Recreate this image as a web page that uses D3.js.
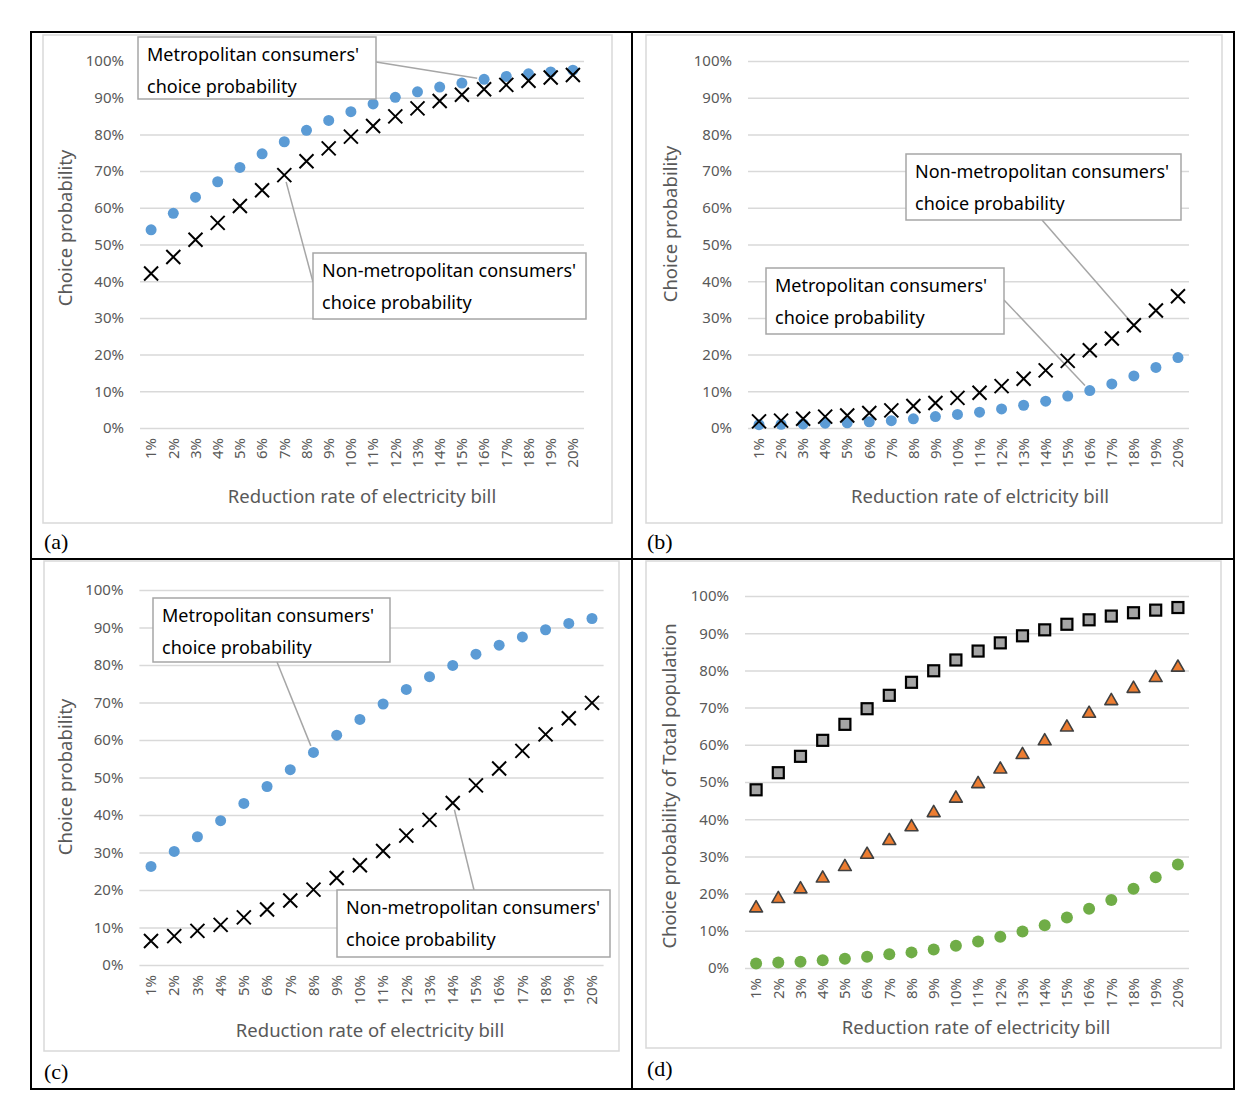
<!doctype html>
<html>
<head>
<meta charset="utf-8"/>
<title>Choice probability by reduction rate of electricity bill</title>
<script src="https://cdnjs.cloudflare.com/ajax/libs/d3/7.8.5/d3.min.js"></script>
<style>
  body { margin: 0; background: #fff; }
  svg { display: block; font-family: "Noto Sans", "Open Sans", sans-serif; }
</style>
</head>
<body>
<svg width="1257" height="1114"></svg>
<script>
var categories = ["1%","2%","3%","4%","5%","6%","7%","8%","9%","10%","11%","12%","13%","14%","15%","16%","17%","18%","19%","20%"];
var yTicks = [0,10,20,30,40,50,60,70,80,90,100];

// (a)
var aMetro    = [54.0,58.5,62.9,67.1,71.0,74.7,78.0,81.1,83.8,86.2,88.3,90.1,91.6,92.9,94.0,95.0,95.8,96.5,97.0,97.5];
var aNonMetro = [42.1,46.6,51.3,55.9,60.5,64.8,68.9,72.7,76.2,79.4,82.3,84.9,87.1,89.1,90.8,92.3,93.5,94.6,95.5,96.2];
// (b)
var bMetro    = [0.9,1.0,1.1,1.3,1.4,1.7,2.0,2.5,3.1,3.7,4.3,5.2,6.2,7.3,8.7,10.2,12.0,14.2,16.5,19.2];
var bNonMetro = [1.8,2.0,2.5,3.1,3.4,4.1,4.8,6.0,6.8,8.2,9.6,11.4,13.4,15.7,18.3,21.2,24.4,28.0,32.0,35.9];
// (c)
var cMetro    = [26.3,30.3,34.2,38.5,43.1,47.6,52.1,56.7,61.3,65.5,69.6,73.5,76.9,79.9,82.9,85.3,87.5,89.4,91.1,92.4];
var cNonMetro = [6.4,7.7,9.1,10.7,12.7,14.8,17.2,20.1,23.2,26.6,30.4,34.5,38.7,43.2,47.9,52.4,57.1,61.5,65.8,69.9];
// (d) total population
var dSquare   = [47.9,52.5,56.9,61.2,65.5,69.7,73.3,76.8,79.9,82.8,85.2,87.4,89.3,90.9,92.4,93.6,94.6,95.5,96.2,96.9];
var dTriangle = [16.1,18.6,21.2,24.1,27.2,30.5,34.2,37.9,41.7,45.6,49.5,53.4,57.3,61.0,64.7,68.4,71.8,75.1,78.0,80.8];
var dCircle   = [1.2,1.5,1.7,2.1,2.5,3.0,3.7,4.2,5.0,6.0,7.1,8.4,9.8,11.5,13.6,15.9,18.3,21.3,24.4,27.8];

var metroLines = ["Metropolitan consumers'", "choice probability"];
var nonMetroLines = ["Non-metropolitan consumers'", "choice probability"];

var svg = d3.select("svg");

var panels = [
  { label: "(a)", labelPos: [44, 549], frame: [43, 35, 569, 488],
    xRange: [140, 584], yRange: [428, 61],
    yTitle: "Choice probability", yTitlePos: [66, 228],
    xTitle: "Reduction rate of electricity bill", xTitlePos: [362, 503],
    series: [
      { values: aMetro, type: "circle", fill: "#5B9BD5" },
      { values: aNonMetro, type: "cross" }
    ],
    callouts: [
      { lines: metroLines, box: [138, 37, 238, 62], from: [376, 62], series: 0, index: 15 },
      { lines: nonMetroLines, box: [313, 253, 273, 66], from: [313, 282], series: 1, index: 6 }
    ] },
  { label: "(b)", labelPos: [647, 549], frame: [646, 35, 576, 488],
    xRange: [748, 1189], yRange: [428, 61],
    yTitle: "Choice probability", yTitlePos: [671, 224],
    xTitle: "Reduction rate of elctricity bill", xTitlePos: [980, 503],
    series: [
      { values: bMetro, type: "circle", fill: "#5B9BD5" },
      { values: bNonMetro, type: "cross" }
    ],
    callouts: [
      { lines: nonMetroLines, box: [906, 154, 275, 66], from: [1042, 220], series: 1, index: 17 },
      { lines: metroLines, box: [766, 268, 238, 66], from: [1004, 300], series: 0, index: 15 }
    ] },
  { label: "(c)", labelPos: [44, 1079], frame: [44, 561, 575, 490],
    xRange: [139.4, 603.6], yRange: [965, 590],
    yTitle: "Choice probability", yTitlePos: [66, 777],
    xTitle: "Reduction rate of electricity bill", xTitlePos: [370, 1037],
    series: [
      { values: cMetro, type: "circle", fill: "#5B9BD5" },
      { values: cNonMetro, type: "cross" }
    ],
    callouts: [
      { lines: metroLines, box: [153, 598, 237, 64], from: [277, 662], series: 0, index: 7 },
      { lines: nonMetroLines, box: [337, 890, 273, 67], from: [474, 890], series: 1, index: 13 }
    ] },
  { label: "(d)", labelPos: [647, 1076], frame: [646, 561, 575, 487],
    xRange: [745, 1189], yRange: [968, 596],
    yTitle: "Choice probability of Total population", yTitlePos: [670, 786],
    xTitle: "Reduction rate of electricity bill", xTitlePos: [976, 1034],
    series: [
      { values: dSquare, type: "square", fill: "#A5A5A5" },
      { values: dTriangle, type: "triangle", fill: "#ED7D31" },
      { values: dCircle, type: "circle", fill: "#70AD47", r: 6 }
    ],
    callouts: [] }
];

// outer frame and dividers
svg.append("rect").attr("x", 31).attr("y", 32).attr("width", 1203).attr("height", 1057)
  .attr("fill", "none").attr("stroke", "#000").attr("stroke-width", 2);
svg.append("line").attr("x1", 632).attr("x2", 632).attr("y1", 32).attr("y2", 1089)
  .attr("stroke", "#000").attr("stroke-width", 2);
svg.append("line").attr("x1", 31).attr("x2", 1234).attr("y1", 559).attr("y2", 559)
  .attr("stroke", "#000").attr("stroke-width", 2);

panels.forEach(drawPanel);

function drawPanel(p) {
  var g = svg.append("g");

  g.append("rect").attr("x", p.frame[0]).attr("y", p.frame[1])
    .attr("width", p.frame[2]).attr("height", p.frame[3])
    .attr("fill", "none").attr("stroke", "#D9D9D9").attr("stroke-width", 1.5);

  var x = d3.scaleBand().domain(categories).range(p.xRange);
  var y = d3.scaleLinear().domain([0, 100]).range(p.yRange);

  var yAxis = d3.axisLeft(y).tickValues(yTicks)
    .tickFormat(function(d){ return d + "%"; })
    .tickSize(-(p.xRange[1] - p.xRange[0])).tickPadding(16);
  var yg = g.append("g").attr("transform", "translate(" + p.xRange[0] + ",0)").call(yAxis);
  yg.select(".domain").remove();
  yg.selectAll("line").attr("stroke", "#D9D9D9").attr("stroke-width", 1.5);
  yg.selectAll("text").attr("fill", "#595959").style("font-size", "15px")
    .style("font-family", "'Noto Sans', sans-serif");

  var xg = g.append("g").attr("transform", "translate(0," + p.yRange[0] + ")")
    .call(d3.axisBottom(x).tickSize(0));
  xg.select(".domain").remove();
  xg.selectAll("text")
    .attr("transform", "rotate(-90)")
    .attr("x", -10).attr("y", 0).attr("dy", "0.35em")
    .style("text-anchor", "end")
    .attr("fill", "#595959").style("font-size", "15px")
    .style("font-family", "'Noto Sans', sans-serif");

  g.append("text")
    .attr("transform", "translate(" + p.yTitlePos[0] + "," + p.yTitlePos[1] + ") rotate(-90)")
    .attr("text-anchor", "middle").attr("dy", "0.35em")
    .attr("fill", "#595959").style("font-size", "18.5px")
    .text(p.yTitle);

  g.append("text")
    .attr("x", p.xTitlePos[0]).attr("y", p.xTitlePos[1])
    .attr("text-anchor", "middle")
    .attr("fill", "#595959").style("font-size", "18.5px")
    .text(p.xTitle);

  // leader lines, under the markers
  p.callouts.forEach(function(c) {
    var s = p.series[c.series];
    var tx = x(categories[c.index]) + x.bandwidth() / 2;
    var ty = y(s.values[c.index]);
    var dx = c.from[0] - tx, dy = c.from[1] - ty;
    var len = Math.sqrt(dx * dx + dy * dy);
    var cut = 7;
    g.append("line")
      .attr("x1", c.from[0]).attr("y1", c.from[1])
      .attr("x2", tx + dx / len * cut).attr("y2", ty + dy / len * cut)
      .attr("stroke", "#A6A6A6").attr("stroke-width", 1.5);
  });

  p.series.forEach(function(s) {
    var pts = g.append("g").selectAll("g").data(s.values).enter().append("g")
      .attr("transform", function(d, i) {
        return "translate(" + (x(categories[i]) + x.bandwidth() / 2) + "," + y(d) + ")";
      });
    if (s.type === "circle") {
      pts.append("circle").attr("r", s.r || 5.5).attr("fill", s.fill);
    } else if (s.type === "cross") {
      pts.append("path").attr("d", "M-7,-7L7,7M-7,7L7,-7")
        .attr("stroke", "#000").attr("stroke-width", 2).attr("fill", "none");
    } else if (s.type === "square") {
      pts.append("rect").attr("x", -5.5).attr("y", -5.5).attr("width", 11).attr("height", 11)
        .attr("fill", s.fill).attr("stroke", "#000").attr("stroke-width", 2.2);
    } else if (s.type === "triangle") {
      pts.append("path").attr("d", d3.symbol(d3.symbolTriangle, 72))
        .attr("fill", s.fill).attr("stroke", "#404040").attr("stroke-width", 1.6)
        .attr("stroke-linejoin", "round");
    }
  });

  p.callouts.forEach(function(c) {
    g.append("rect").attr("x", c.box[0]).attr("y", c.box[1])
      .attr("width", c.box[2]).attr("height", c.box[3])
      .attr("fill", "#fff").attr("stroke", "#A6A6A6").attr("stroke-width", 1.5);
    c.lines.forEach(function(t, k) {
      g.append("text")
        .attr("x", c.box[0] + 9).attr("y", c.box[1] + 24 + k * 32)
        .attr("fill", "#000").style("font-size", "18px")
        .text(t);
    });
  });

  g.append("text").attr("x", p.labelPos[0]).attr("y", p.labelPos[1])
    .style("font-family", "'Liberation Serif', 'Times New Roman', serif")
    .style("font-size", "22px").attr("fill", "#000")
    .text(p.label);
}
</script>
</body>
</html>
